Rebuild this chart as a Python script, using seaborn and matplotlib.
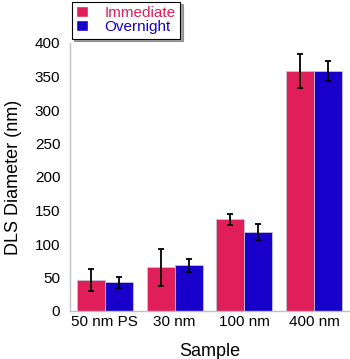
import pandas as pd
import matplotlib
matplotlib.use('Agg')
import matplotlib.pyplot as plt
import seaborn as sns
from matplotlib.patches import Patch
from matplotlib.ticker import FixedLocator

samples = ['50 nm PS', '30 nm', '100 nm', '400 nm']
immediate = [46, 65, 137, 358]
immediate_err = [16, 28, 8, 25]
overnight = [43, 68, 118, 358]
overnight_err = [8, 10, 12.5, 15]

red = '#E01E5A'
blue = '#1600CA'

df = pd.DataFrame({
    'Sample': samples * 2,
    'Diameter': immediate + overnight,
    'err': immediate_err + overnight_err,
    'Time': ['Immediate'] * 4 + ['Overnight'] * 4,
})

sns.set_style('white', {'text.color': 'black', 'axes.labelcolor': 'black',
                        'xtick.color': 'black', 'ytick.color': 'black'})
plt.rcParams['font.family'] = ['Liberation Sans', 'DejaVu Sans']

fig = plt.figure(figsize=(3.5, 3.59), dpi=100)
ax = fig.add_axes([70 / 350, 48 / 359, 279 / 350, 268 / 359])

sns.barplot(data=df, x='Sample', y='Diameter', hue='Time', palette=[red, blue],
            width=0.8, errorbar=None, saturation=1, edgecolor='#c4c4d4', linewidth=0.6,
            legend=False, ax=ax)

# error bars at bar centres
bars = [p for p in ax.patches if p.get_width() > 0]
bars = sorted(bars, key=lambda p: (p.get_facecolor()[2] > 0.5, p.get_x()))
for p, e in zip(bars, df['err']):
    ax.errorbar(p.get_x() + p.get_width() / 2, p.get_height(), yerr=e,
                fmt='none', ecolor='black', elinewidth=1.3, capsize=2, capthick=1.3)

ax.set_ylim(0, 400)
ax.set_xlim(-0.5, 3.5)
ax.set_yticks(range(0, 401, 50))
ax.xaxis.set_minor_locator(FixedLocator([0.5, 1.5, 2.5]))

for s in ['top', 'right']:
    ax.spines[s].set_visible(False)
for s in ['left', 'bottom']:
    ax.spines[s].set_color('#c0c0c0')
    ax.spines[s].set_linewidth(1)

ax.tick_params(axis='y', direction='in', length=4, color='#c0c0c0', labelcolor='black',
               labelsize=11, pad=7)
ax.tick_params(axis='x', which='major', length=0, labelcolor='black', labelsize=11, pad=3)
ax.tick_params(axis='x', which='minor', direction='in', length=4, color='#c0c0c0')

ax.set_xlabel('Sample', fontsize=13, labelpad=10, color='black')
ax.set_ylabel('DLS Diameter (nm)', fontsize=13, labelpad=9, color='black')

handles = [Patch(facecolor=red), Patch(facecolor=blue)]
leg = ax.legend(handles, ['Immediate', 'Overnight'], loc='upper left',
                bbox_to_anchor=(70 / 350, 1.0), bbox_transform=fig.transFigure,
                borderaxespad=0.1, fancybox=False, shadow=True, frameon=True,
                fontsize=11, handlelength=0.75, handleheight=0.75, handletextpad=1.1,
                labelspacing=0.0, borderpad=0.3)
leg.get_frame().set_edgecolor('black')
leg.get_frame().set_linewidth(0.8)
for t, c in zip(leg.get_texts(), [red, blue]):
    t.set_color(c)

fig.savefig('out.png', dpi=100)
